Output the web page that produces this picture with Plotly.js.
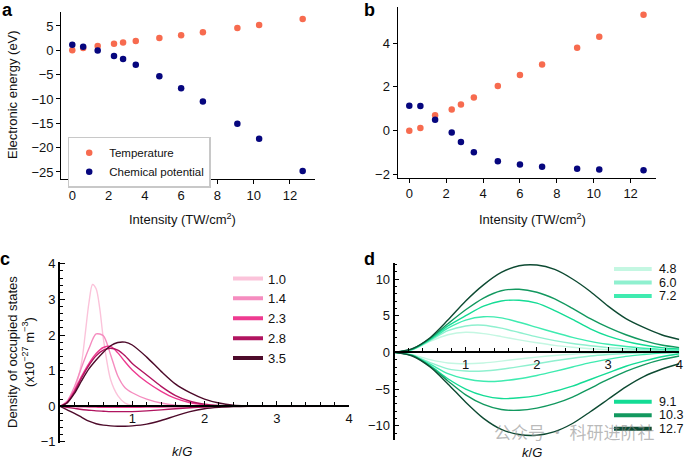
<!DOCTYPE html>
<html>
<head>
<meta charset="utf-8">
<script src="https://cdn.plot.ly/plotly-3.0.1.min.js"></script>
<style>
  html, body { margin: 0; padding: 0; background: #fff; }
  #plot { width: 685px; height: 461px; }
</style>
</head>
<body>
<div id="plot"></div>
<script>
// ---- data ----
const intensity = [0, 0.6, 1.4, 2.3, 2.8, 3.5, 4.8, 6.0, 7.2, 9.1, 10.3, 12.7];
const tempA = [0, 0.48, 0.89, 1.37, 1.58, 1.92, 2.53, 3.08, 3.7, 4.59, 5.2, 6.44];
const chemA = [1.16, 0.75, -0.05, -1.16, -1.78, -2.95, -5.34, -7.81, -10.5, -15.07, -18.15, -24.8];
const tempB = [0, 0.12, 0.70, 0.97, 1.19, 1.51, 2.04, 2.54, 3.02, 3.79, 4.29, 5.29];
const chemB = [1.14, 1.13, 0.50, -0.09, -0.52, -0.99, -1.40, -1.55, -1.65, -1.74, -1.77, -1.81];

// panel c: density of occupied states vs k/G
const kC10 = [0, 0.1, 0.2, 0.3, 0.35, 0.4, 0.45, 0.5, 0.55, 0.6, 0.7, 0.8, 0.9, 1.0, 1.2, 4.0];
const kC = [0, 0.1, 0.2, 0.3, 0.4, 0.5, 0.6, 0.7, 0.8, 0.9, 1.0, 1.2, 1.4, 1.6, 1.8, 2.0, 2.2, 2.4, 2.6, 2.8, 3.0, 4.0];
const c10 = [0, 0.1, 0.45, 1.25, 2.05, 2.9, 3.42, 3.3, 2.75, 1.9, 0.75, 0.3, 0.09, 0.02, 0, 0];
const c14 = [0, 0.15, 0.55, 1.1, 1.62, 2.03, 1.98, 1.45, 0.85, 0.52, 0.38, 0.2, 0.09, 0.03, 0.01, 0, 0, 0, 0, 0, 0, 0];
const c23 = [0, 0.12, 0.45, 0.85, 1.2, 1.48, 1.65, 1.68, 1.5, 1.25, 1.02, 0.68, 0.42, 0.22, 0.1, 0.04, 0.01, 0, 0, 0, 0, 0];
const c28 = [0, 0.1, 0.4, 0.8, 1.15, 1.42, 1.58, 1.63, 1.58, 1.42, 1.2, 0.88, 0.56, 0.3, 0.14, 0.06, 0.02, 0, 0, 0, 0, 0];
const c35 = [0, 0.1, 0.36, 0.72, 1.05, 1.3, 1.52, 1.7, 1.79, 1.8, 1.72, 1.38, 0.98, 0.62, 0.38, 0.2, 0.09, 0.03, 0.01, 0, 0, 0];
const c23n = [0, -0.005, -0.01, -0.015, -0.02, -0.025, -0.03, -0.03, -0.03, -0.03, -0.03, -0.025, -0.02, -0.015, -0.01, -0.005, 0, 0, 0, 0, 0, 0];
const c28n = [0, -0.03, -0.06, -0.09, -0.11, -0.13, -0.14, -0.15, -0.15, -0.15, -0.15, -0.13, -0.1, -0.07, -0.04, -0.02, -0.01, 0, 0, 0, 0, 0];
const c35n = [0, -0.1, -0.2, -0.31, -0.42, -0.49, -0.53, -0.55, -0.56, -0.56, -0.55, -0.5, -0.4, -0.27, -0.15, -0.07, -0.03, -0.01, 0, 0, 0, 0];
const cLabels = ['1.0', '1.4', '2.3', '2.8', '3.5'];

// panel d
const kD = [0, 0.25, 0.5, 0.75, 1, 1.25, 1.5, 1.75, 2, 2.25, 2.5, 2.75, 3, 3.25, 3.5, 3.75, 4];
const d48 = [0, 0.35, 1.5, 2.4, 2.73, 2.55, 2.15, 1.7, 1.3, 0.95, 0.7, 0.5, 0.35, 0.25, 0.18, 0.13, 0.1];
const d60 = [0, 0.38, 1.6, 2.95, 3.6, 3.7, 3.3, 2.7, 2.1, 1.6, 1.2, 0.9, 0.65, 0.5, 0.35, 0.25, 0.18];
const d72 = [0, 0.4, 1.7, 3.3, 4.4, 4.85, 4.7, 4.1, 3.4, 2.7, 2.05, 1.5, 1.1, 0.8, 0.55, 0.4, 0.3];
const d91 = [0, 0.42, 1.8, 3.6, 5.0, 6.3, 7.0, 7.1, 6.7, 5.7, 4.5, 3.2, 2.2, 1.5, 1.0, 0.65, 0.45];
const d103 = [0, 0.45, 1.9, 3.9, 5.8, 7.4, 8.4, 8.6, 8.2, 7.3, 6.0, 4.6, 3.4, 2.4, 1.6, 1.0, 0.64];
const d127 = [0, 0.5, 2.0, 4.4, 7.0, 9.2, 10.9, 11.8, 11.9, 11.3, 10.0, 8.3, 6.3, 4.6, 3.4, 2.4, 1.75];
const d48n = [0, -0.32, -1.0, -1.45, -1.55, -1.45, -1.2, -0.9, -0.65, -0.42, -0.25, -0.12, -0.05, 0, 0, 0, 0];
const d60n = [0, -0.38, -1.4, -2.25, -2.55, -2.55, -2.3, -1.95, -1.55, -1.15, -0.8, -0.5, -0.3, -0.15, -0.05, 0, 0];
const d72n = [0, -0.4, -1.6, -2.9, -3.6, -3.95, -3.9, -3.6, -3.15, -2.6, -2.0, -1.4, -0.95, -0.55, -0.3, -0.1, 0];
const d91n = [0, -0.42, -1.8, -3.6, -5.0, -5.9, -6.3, -6.2, -5.9, -5.3, -4.6, -3.7, -2.8, -1.9, -1.2, -0.6, -0.2];
const d103n = [0, -0.45, -1.9, -3.9, -5.8, -7.1, -7.8, -7.9, -7.6, -7.0, -6.1, -4.9, -3.7, -2.6, -1.7, -1.0, -0.5];
const d127n = [0, -0.5, -2.0, -4.3, -6.8, -9.0, -10.5, -11.2, -11.3, -10.8, -9.7, -8.1, -6.4, -4.7, -3.3, -2.3, -1.55];
const dLabels = ['4.8', '6.0', '7.2', '9.1', '10.3', '12.7'];

// ---- styles ----
const tempColor = '#f76b4f';
const chemColor = '#06067e';
const cColors = ['#fbc3da', '#f58cbf', '#ee3a90', '#b0145f', '#4d0a2a'];
const dColors = ['#c4f7e2', '#8ff0cf', '#3febb0', '#14dc95', '#12985f', '#0d4a32'];
const FONT = 'Liberation Sans, Arial, Helvetica, sans-serif';
const W = 685, H = 461;
const px = v => v / W;           // pixel x -> paper
const py = v => 1 - v / H;       // pixel y -> paper

// Helpers
function makeDots(x, y, color, name, xa, ya, legend) {
  return { x, y, type: 'scatter', mode: 'markers', name,
    marker: { color, size: 6.5 }, xaxis: xa, yaxis: ya,
    showlegend: !!legend, legend: legend || 'legend', hoverinfo: 'x+y' };
}

function makeCurve(x, y, color, group, xa, ya) {
  return { x, y, type: 'scatter', mode: 'lines',
    line: { color, width: 1.4, shape: 'spline', smoothing: 0.8 },
    xaxis: xa, yaxis: ya, legendgroup: group, showlegend: false, hoverinfo: 'x+y' };
}

function axis(extra) {
  return Object.assign({
    showgrid: false, zeroline: false, showline: true,
    linecolor: '#000', linewidth: 1.3,
    ticks: 'outside', ticklen: 4, tickwidth: 1.2, tickcolor: '#000',
    tickfont: { family: FONT, size: 13, color: '#111' },
    fixedrange: true
  }, extra);
}

// free x axis sits on y = 0 of its panel
function zeroPosition(domain, range) {
  return domain[0] + (0 - range[0]) / (range[1] - range[0]) * (domain[1] - domain[0]);
}

const yDomC = [py(443.3), py(261.7)], yRangeC = [-1.04, 4.06];
const yDomD = [py(440), py(263.3)], yRangeD = [-11.95, 12.14];

const traces = [
  makeDots(intensity, tempA, tempColor, 'Temperature', 'x', 'y', 'legend'),
  makeDots(intensity, chemA, chemColor, 'Chemical potential', 'x', 'y', 'legend'),
  makeDots(intensity, tempB, tempColor, 'Temperature', 'x2', 'y2'),
  makeDots(intensity, chemB, chemColor, 'Chemical potential', 'x2', 'y2')
];

// panel c
const cPos = [c10, c14, c23, c28, c35];
const cX = [kC10, kC, kC, kC, kC];
const cNeg = [null, null, c23n, c28n, c35n];
cLabels.forEach((lab, i) => {
  traces.push(makeCurve(cX[i], cPos[i], cColors[i], 'c' + lab, 'x3', 'y3'));
  if (cNeg[i]) traces.push(makeCurve(kC, cNeg[i], cColors[i], 'c' + lab, 'x3', 'y3'));
});
// legend keys for c
cLabels.forEach((lab, i) => {
  traces.push({ x: [null], y: [null], type: 'scatter', mode: 'lines', name: lab,
    line: { color: cColors[i], width: 4 }, xaxis: 'x3', yaxis: 'y3',
    legend: 'legend2', legendgroup: 'c' + lab, showlegend: true });
});

// panel d
const dPos = [d48, d60, d72, d91, d103, d127];
const dNeg = [d48n, d60n, d72n, d91n, d103n, d127n];
dLabels.forEach((lab, i) => {
  traces.push(makeCurve(kD, dPos[i], dColors[i], 'd' + lab, 'x4', 'y4'));
  traces.push(makeCurve(kD, dNeg[i], dColors[i], 'd' + lab, 'x4', 'y4'));
});

// manual legend keys for d (tight rows)
const shapes = [];
const annotations = [];
dLabels.forEach((lab, i) => {
  const row = i < 3 ? 269 + i * 13.5 : 401.7 + (i - 3) * 13.5;
  shapes.push({ type: 'line', xref: 'paper', yref: 'paper',
    x0: px(614), x1: px(651.7), y0: py(row), y1: py(row),
    line: { color: dColors[i], width: 4 } });
  annotations.push({ xref: 'paper', yref: 'paper', x: px(657), y: py(row),
    xanchor: 'left', yanchor: 'middle', showarrow: false, text: lab,
    font: { family: FONT, size: 12.5, color: '#111' } });
});

function note(text, x, y, opts) {
  annotations.push(Object.assign({ xref: 'paper', yref: 'paper', x: px(x), y: py(y),
    xanchor: 'center', yanchor: 'middle', showarrow: false, text,
    font: { family: FONT, size: 13, color: '#111' } }, opts || {}));
}

// panel letters
const letterFont = { family: FONT, size: 18, color: '#000' };
note('<b>a</b>', 7, 10, { font: letterFont });
note('<b>b</b>', 369, 10, { font: letterFont });
note('<b>c</b>', 5, 259, { font: letterFont });
note('<b>d</b>', 369, 259, { font: letterFont });

// axis titles
note('Electronic energy (eV)', 12, 95, { textangle: -90 });
note('Intensity (TW/cm<sup>2</sup>)', 183, 219);
note('Intensity (TW/cm<sup>2</sup>)', 532, 219);
note('Density of occupied states<br>(x10<sup>\u221227</sup> m<sup>\u22123</sup>)', 21, 352, { textangle: -90 });
note('<i>k</i>/<i>G</i>', 182, 451);
note('<i>k</i>/<i>G</i>', 532, 452);

// watermark text in the picture
note('公众号 · 科研进阶社', 574, 431, { font: { family: 'Noto Sans CJK SC', size: 17, color: 'rgba(140,140,140,0.6)' } });

const layout = {
  width: W, height: H,
  margin: { l: 0, r: 0, t: 0, b: 0 },
  paper_bgcolor: '#fff', plot_bgcolor: 'rgba(0,0,0,0)',
  font: { family: FONT, color: '#111' },
  xaxis: axis({ domain: [px(61.3), px(315)], range: [-0.606, 13.38], tickvals: [0, 2, 4, 6, 8, 10, 12], anchor: 'y' }),
  yaxis: axis({ domain: [py(179), py(11.7)], range: [-26.44, 7.93], dtick: 5, tick0: 0, anchor: 'x' }),
  xaxis2: axis({ domain: [px(397.7), px(655.7)], range: [-0.629, 13.36], tickvals: [0, 2, 4, 6, 8, 10, 12], anchor: 'y2' }),
  yaxis2: axis({ domain: [py(177.7), py(6.7)], range: [-2.15, 5.66], dtick: 2, tick0: 0, anchor: 'x2' }),
  xaxis3: axis({ domain: [px(60), px(349)], range: [0, 4], tickvals: [1, 2, 3, 4],
    anchor: 'free', position: zeroPosition(yDomC, yRangeC), linewidth: 2.2,
    ticks: 'inside', ticklen: 4,
    minor: { dtick: 0.2, tick0: 0, ticks: 'inside', ticklen: 3, tickcolor: '#000', showgrid: false } }),
  yaxis3: axis({ domain: yDomC, range: yRangeC, dtick: 1, tick0: 0, anchor: 'x3', linewidth: 1.6,
    ticks: 'inside', ticklen: 5,
    minor: { dtick: 0.2, tick0: 0, ticks: 'inside', ticklen: 3, tickcolor: '#000', showgrid: false } }),
  xaxis4: axis({ domain: [px(394.5), px(679.3)], range: [0, 4], tickvals: [1, 2, 3, 4],
    anchor: 'free', position: zeroPosition(yDomD, yRangeD), linewidth: 2.2,
    ticks: 'inside', ticklen: 4,
    minor: { dtick: 0.2, tick0: 0, ticks: 'inside', ticklen: 3, tickcolor: '#000', showgrid: false } }),
  yaxis4: axis({ domain: yDomD, range: yRangeD, dtick: 5, tick0: 0, anchor: 'x4', linewidth: 1.6,
    ticks: 'inside', ticklen: 5,
    minor: { dtick: 1, tick0: 0, ticks: 'inside', ticklen: 3, tickcolor: '#000', showgrid: false } }),
  legend: { x: px(67.7), y: py(136.7), xanchor: 'left', yanchor: 'top',
    bgcolor: '#fff', bordercolor: '#c8c8c8', borderwidth: 1.5,
    font: { family: FONT, size: 11.5, color: '#111' }, tracegroupgap: 0 },
  legend2: { x: px(228), y: py(263.5), xanchor: 'left', yanchor: 'top',
    bgcolor: 'rgba(0,0,0,0)', borderwidth: 0,
    font: { family: FONT, size: 13, color: '#111' }, tracegroupgap: 0 },
  shapes, annotations,
  hovermode: 'closest'
};

Plotly.newPlot('plot', traces, layout, { displayModeBar: false });
</script>
</body>
</html>
